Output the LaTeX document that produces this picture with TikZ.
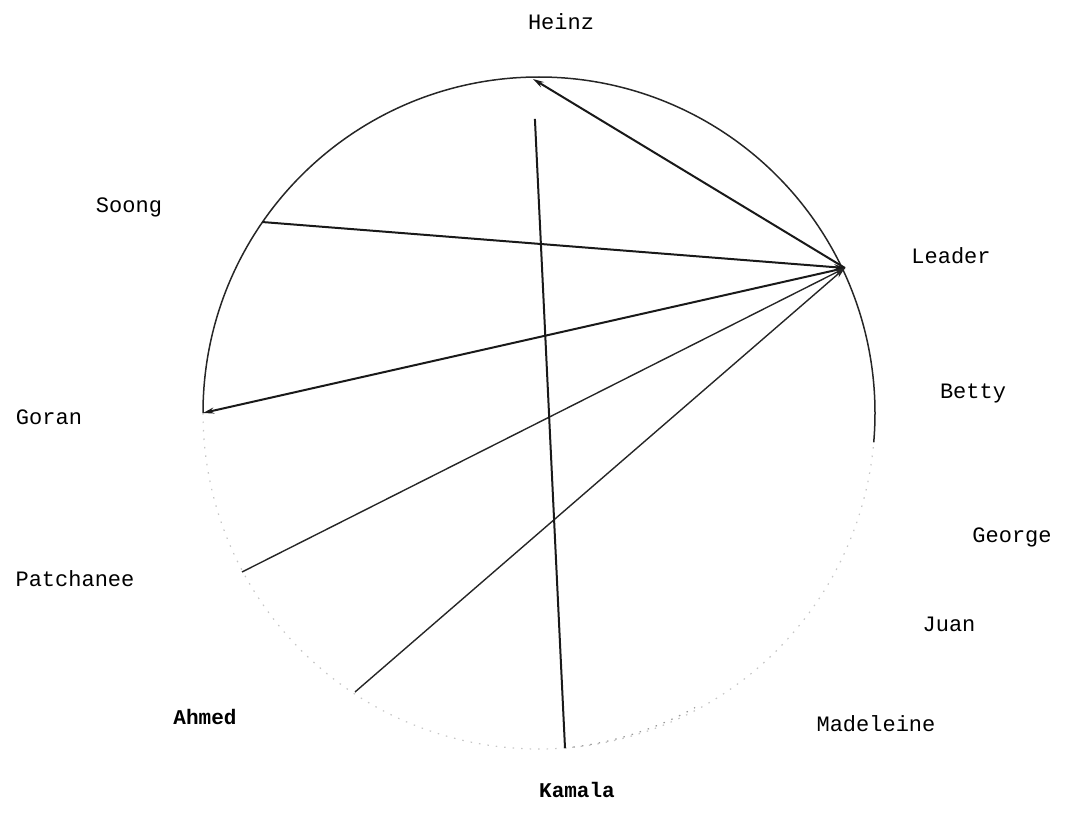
\documentclass[tikz,border=0pt]{standalone}
\usepackage{fontspec}
\setmonofont{Liberation Mono}
\usetikzlibrary{arrows.meta}
\tikzset{
  rim/.style={line width=1.5pt,black!85},
  faint/.style={line width=1.2pt,gray!45,dash pattern=on 1.5pt off 7pt},
  lnk/.style={line width=2pt,black!90},
  thin lnk/.style={line width=1.4pt,black!85},
  arr/.style={-{Stealth[length=11pt,width=6pt]}},
  who/.style={font=\ttfamily\fontsize{22}{26}\selectfont,inner sep=0pt}
}
\begin{document}
\begin{tikzpicture}[x=1pt,y=-1pt]
\useasboundingbox (0,0) rectangle (1066,816);
% places on the ring
\coordinate (c) at (539,413);
\coordinate (hz) at (533,79);
\coordinate (ld) at (845,268);
\coordinate (so) at (262,222);
\coordinate (go) at (203,413);
\coordinate (pa) at (242,572);
\coordinate (ah) at (355,692);
\coordinate (ka) at (565,748);
% the ring
\draw[rim] (go) arc[start angle=180,end angle=-5,radius=336pt];
\draw[faint] (go) arc[start angle=180,end angle=355,radius=336pt];
\draw[faint,gray!80] (ka) arc[start angle=275.6,end angle=299,radius=336pt];
% who talks to whom
\draw[lnk,arr] (ld) -- (hz);
\draw[lnk,arr] (so) -- (ld);
\draw[lnk,arr] (ld) -- (go);
\draw[thin lnk,arr] (pa) -- (ld);
\draw[thin lnk,arr] (ah) -- (ld);
\draw[lnk,shorten >=40pt] (ka) -- (hz);
% names
\node[who] (nHeinz) at (561,22) {Heinz};
\node[who] (nSoong) at (129,207) {Soong};
\node[who] (nLeader) at (951,256) {Leader};
\node[who] (nBetty) at (973,393) {Betty};
\node[who] (nGoran) at (49,417) {Goran};
\node[who] (nGeorge) at (1012,537) {George};
\node[who] (nPatch) at (75,579) {Patchanee};
\node[who] (nJuan) at (949,624) {Juan};
\node[who,font=\ttfamily\bfseries\fontsize{21}{26}\selectfont] (nAhmed) at (205,717) {Ahmed};
\node[who] (nMad) at (876,724) {Madeleine};
\node[who,font=\ttfamily\bfseries\fontsize{21}{26}\selectfont] (nKamala) at (577,790) {Kamala};
\end{tikzpicture}
\end{document}
